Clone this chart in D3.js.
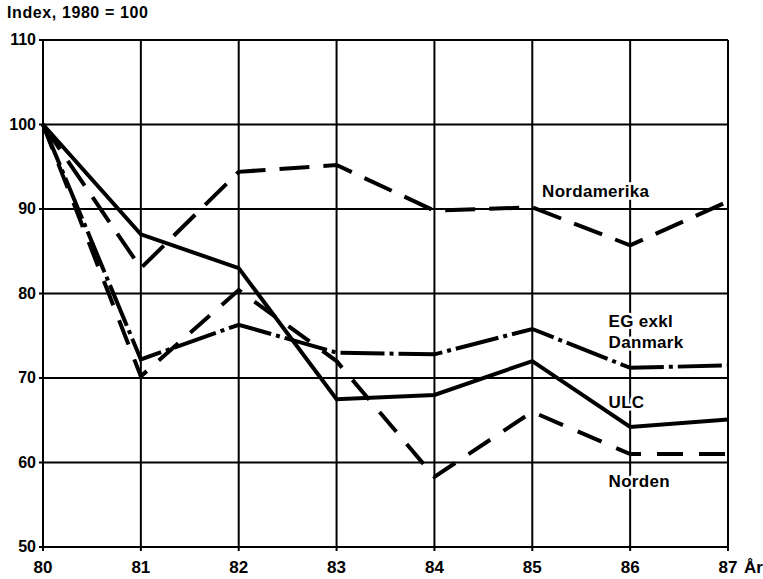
<!DOCTYPE html>
<html>
<head>
<meta charset="utf-8">
<script src="https://cdn.jsdelivr.net/npm/d3@7"></script>
<style>
  body { margin: 0; background: #fff; }
  text { font-family: "Liberation Sans", Arial, sans-serif; font-weight: bold; fill: #000; }
</style>
</head>
<body>
<svg width="763" height="579"></svg>
<script>
// data
var years = [80, 81, 82, 83, 84, 85, 86, 87];
var yTicks = [50, 60, 70, 80, 90, 100, 110];
var ulc = [100, 87, 83, 67.5, 68, 72, 64.2, 65.1];
var nordamerika = [100, 83, 94.4, 95.2, 89.8, 90.2, 85.7, 90.9];
var egExklDanmark = [100, 72.2, 76.3, 73, 72.8, 75.8, 71.2, 71.5];
var norden = [100, 70.2, 80.4, 72, 58.3, 66, 61, 61];

var series = [
  { name: "Nordamerika", values: nordamerika, dash: "30,14", label: ["Nordamerika"], lx: 85.1, ly: 91.4 },
  { name: "EG exkl Danmark", values: egExklDanmark, dash: "44,5,4,5", label: ["EG exkl", "Danmark"], lx: 85.78, ly: 76.0 },
  { name: "ULC", values: ulc, dash: null, label: ["ULC"], lx: 85.78, ly: 66.4 },
  { name: "Norden", values: norden, dash: "26,16", label: ["Norden"], lx: 85.78, ly: 57.1 }
];

var svg = d3.select("svg");

var x = d3.scaleLinear().domain([80, 87]).range([43, 728]);
var y = d3.scaleLinear().domain([50, 110]).range([547, 40]);

var g = svg.append("g");

// grid
g.selectAll("line.vgrid")
  .data(years)
  .enter().append("line")
  .attr("class", "vgrid")
  .attr("x1", function(d) { return x(d); })
  .attr("x2", function(d) { return x(d); })
  .attr("y1", y(110))
  .attr("y2", y(50) + 4)
  .attr("stroke", "#000")
  .attr("stroke-width", 2);

g.selectAll("line.hgrid")
  .data(yTicks)
  .enter().append("line")
  .attr("class", "hgrid")
  .attr("x1", x(80) - 4)
  .attr("x2", x(87))
  .attr("y1", function(d) { return y(d); })
  .attr("y2", function(d) { return y(d); })
  .attr("stroke", "#000")
  .attr("stroke-width", 2);

// tick labels
g.selectAll("text.ylab")
  .data(yTicks)
  .enter().append("text")
  .attr("class", "ylab")
  .attr("x", x(80) - 7)
  .attr("y", function(d) { return y(d) + 5; })
  .attr("text-anchor", "end")
  .style("font-size", "16px")
  .text(function(d) { return d; });

g.selectAll("text.xlab")
  .data(years)
  .enter().append("text")
  .attr("class", "xlab")
  .attr("x", function(d) { return x(d); })
  .attr("y", 573)
  .attr("text-anchor", "middle")
  .style("font-size", "17px")
  .text(function(d) { return d; });

svg.append("text")
  .attr("x", x(87) + 16)
  .attr("y", 573)
  .style("font-size", "17px")
  .text("År");

svg.append("text")
  .attr("x", 7)
  .attr("y", 18)
  .style("font-size", "16px")
  .style("letter-spacing", "0.6px")
  .text("Index, 1980 = 100");

// series lines
var line = d3.line()
  .x(function(d, i) { return x(years[i]); })
  .y(function(d) { return y(d); });

svg.append("g")
  .selectAll("path")
  .data(series)
  .enter().append("path")
  .attr("d", function(d) { return line(d.values); })
  .attr("fill", "none")
  .attr("stroke", "#000")
  .attr("stroke-width", 4)
  .attr("stroke-linejoin", "miter")
  .attr("stroke-dasharray", function(d) { return d.dash; });

// labels, white halo breaks the grid behind them
var lab = svg.append("g")
  .selectAll("text")
  .data(series)
  .enter().append("text")
  .attr("x", function(d) { return x(d.lx); })
  .attr("y", function(d) { return y(d.ly); })
  .style("font-size", "17px")
  .style("letter-spacing", "0.3px")
  .attr("stroke", "#fff")
  .attr("stroke-width", 5)
  .attr("paint-order", "stroke");

lab.selectAll("tspan")
  .data(function(d) { return d.label; })
  .enter().append("tspan")
  .attr("x", function() { return x(d3.select(this.parentNode).datum().lx); })
  .attr("dy", function(d, i) { return i ? 21 : 0; })
  .text(function(d) { return d; });
</script>
</body>
</html>
